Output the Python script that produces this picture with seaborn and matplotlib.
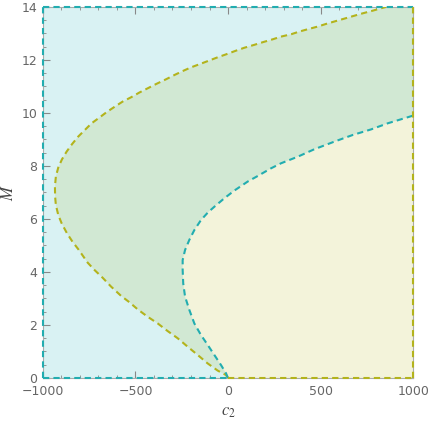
import numpy as np
import matplotlib
matplotlib.use("Agg")
import matplotlib.pyplot as plt
import seaborn as sns

# olive boundary (outer curve)
olive_c2 = [0, -11, -56, -110, -164, -218, -272, -326, -380, -434, -488, -533,
            -578, -632, -677, -722, -758, -809, -840, -870, -899, -917, -930,
            -934, -935, -930, -917, -897, -872, -843, -809, -773, -737, -696,
            -654, -611, -569, -524, -479, -434, -389, -335, -290, -245, -200,
            -146, -101, -56, -11, 43, 88, 142, 188, 242, 286, 341, 385, 431,
            485, 530, 584, 629, 683, 728, 782, 827, 854]
olive_M = [0.0, 0.11, 0.28, 0.55, 0.87, 1.18, 1.50, 1.77, 2.06, 2.31, 2.59, 2.86,
           3.10, 3.45, 3.78, 4.08, 4.35, 4.86, 5.14, 5.46, 5.84, 6.15, 6.53,
           6.84, 7.22, 7.60, 7.94, 8.25, 8.54, 8.82, 9.11, 9.36, 9.61, 9.82,
           10.04, 10.24, 10.43, 10.59, 10.77, 10.93, 11.09, 11.27, 11.43, 11.58, 11.72,
           11.86, 11.98, 12.10, 12.21, 12.35, 12.46, 12.57, 12.67, 12.78, 12.88, 12.97, 13.07, 13.16,
           13.26, 13.36, 13.47, 13.56, 13.67, 13.76, 13.86, 13.95, 14.0]

# teal boundary (inner curve)
teal_c2 = [0, -11, -38, -74, -110, -146, -182, -209, -232, -242, -245, -245,
           -232, -209, -182, -146, -108, -74, -20, 34, 106, 160, 232, 286,
           377, 466, 575, 674, 773, 863, 953, 1000]
teal_M = [0.0, 0.18, 0.49, 0.87, 1.25, 1.62, 2.06, 2.57, 3.07, 3.57, 4.08, 4.45,
          4.83, 5.21, 5.58, 5.96, 6.25, 6.46, 6.78, 7.07, 7.41, 7.62, 7.91, 8.10,
          8.35, 8.63, 8.92, 9.17, 9.38, 9.61, 9.80, 9.90]

x_ticks = [-1000, -500, 0, 500, 1000]
y_ticks = [0, 2, 4, 6, 8, 10, 12, 14]

c_cyan = "#d9f2f3"
c_green = "#d1e8d3"
c_yellow = "#f3f3da"
c_olive = "#b3b31c"
c_teal = "#22adb0"

sns.set_style("ticks")
plt.rcParams["mathtext.fontset"] = "stix"

fig = plt.figure(figsize=(4.29, 4.26), dpi=100)
ax = fig.add_axes([0.100, 0.1127, 0.863, 0.871])
ax.set_facecolor(c_cyan)

x0, x1 = x_ticks[0], x_ticks[-1]
y0, y1 = y_ticks[0], y_ticks[-1]

# regions
ax.fill(olive_c2 + [x1, x1], olive_M + [y1, y0], color=c_green, lw=0, zorder=1)
ax.fill(teal_c2 + [x1], teal_M + [y0], color=c_yellow, lw=0, zorder=2)

# boundaries
sns.lineplot(x=olive_c2, y=olive_M, sort=False, estimator=None, color=c_olive,
             lw=1.5, ax=ax, zorder=4)
sns.lineplot(x=teal_c2, y=teal_M, sort=False, estimator=None, color=c_teal,
             lw=1.5, ax=ax, zorder=4)
for line in ax.lines:
    line.set_dashes([3, 2])

# plot-range edges, drawn dashed like the region boundaries
kw = dict(lw=1.5, dashes=[3, 2], zorder=5, clip_on=False)
ax.plot([x0, x1], [y1, y1], color=c_teal, **kw)
ax.plot([x0, x0], [y0, y1], color=c_teal, **kw)
ax.plot([x0, 0], [y0, y0], color=c_teal, **kw)
ax.plot([0, x1], [y0, y0], color=c_olive, **kw)
ax.plot([x1, x1], [y0, y1], color=c_olive, **kw)

ax.set_xlim(x0, x1)
ax.set_ylim(y0, y1)
ax.set_xticks(x_ticks)
ax.set_yticks(y_ticks)
ax.set_xticks(np.arange(-1000, 1001, 100), minor=True)
ax.set_yticks(np.arange(0, 14.01, 0.5), minor=True)
ax.set_xticklabels(["\u22121000", "\u2212500", "0", "500", "1000"])
ax.tick_params(which="both", direction="in", top=True, right=True,
               color="#888888", labelcolor="#666666", labelsize=9)
ax.tick_params(which="major", length=5, width=0.8)
ax.tick_params(axis="x", which="major", pad=5)
ax.tick_params(axis="y", which="major", pad=4)
ax.tick_params(which="minor", length=2.5, width=0.6)
for s in ax.spines.values():
    s.set_color("#aaaaaa")
    s.set_linewidth(0.8)
    s.set_zorder(3)

ax.set_xlabel("$c_2$", fontsize=12, color="#444444", labelpad=3)
ax.set_ylabel("$M$", fontsize=12, color="#444444", labelpad=3)

fig.savefig("out.png", dpi=100)
